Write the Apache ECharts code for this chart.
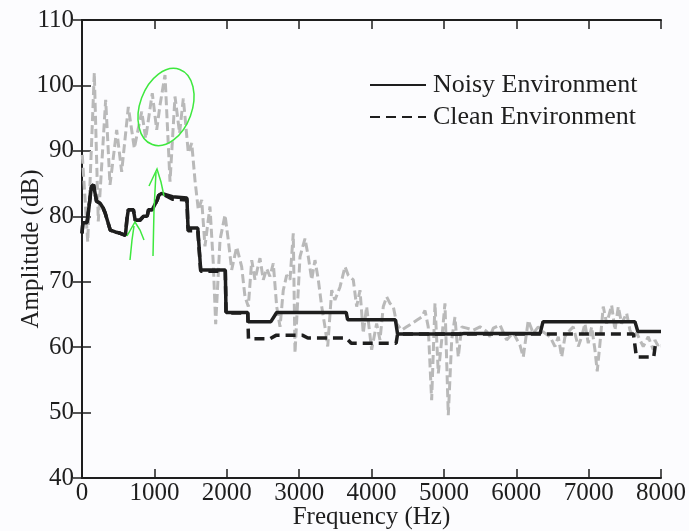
<!DOCTYPE html>
<html>
<head>
<meta charset="utf-8">
<script src="https://cdn.jsdelivr.net/npm/echarts@6/dist/echarts.min.js"></script>
<style>
  html, body { margin: 0; padding: 0; background: #fcfcfe; }
  #main { width: 689px; height: 531px; }
</style>
</head>
<body>
<div id="main"></div>
<script>
// spectrum of the noisy recording (grey dashed trace)
var specFreq = [4, 79, 170, 225, 327, 387, 479, 548, 640, 723, 825, 880, 971, 1032, 1078, 1147, 1216, 1285, 1348, 1400,
    1469, 1516, 1561, 1607, 1654, 1699, 1768, 1814, 1847, 1907, 1976, 2021, 2068, 2137, 2206, 2252, 2298, 2345, 2390, 2459,
    2505, 2552, 2597, 2643, 2690, 2736, 2781, 2828, 2874, 2919, 2943, 3012, 3081, 3127, 3174, 3219, 3265, 3312, 3357, 3395,
    3450, 3495, 3565, 3634, 3679, 3748, 3795, 3841, 3886, 3933, 4002, 4071, 4117, 4163, 4210, 4255, 4301, 4348, 4417, 4486,
    4555, 4624, 4693, 4739, 4784, 4831, 4877, 4923, 4970, 5015, 5061, 5108, 5153, 5199, 5246, 5315, 5406, 5499, 5591, 5637,
    5683, 5775, 5867, 5959, 6051, 6097, 6166, 6235, 6304, 6373, 6466, 6535, 6581, 6628, 6673, 6742, 6788, 6857, 6904, 6949,
    6995, 7042, 7087, 7119, 7157, 7202, 7249, 7318, 7364, 7410, 7456, 7525, 7571, 7617, 7663, 7709, 7755, 7824, 7893, 7916,
    7953, 8000];
var specAmp = [89.4, 76.1, 101.9, 79.2, 97.8, 84.8, 93.2, 86.8, 96.7, 90.4, 96.0, 91.9, 98.8, 93.2, 97.0, 101.6, 85.3, 98.3, 92.7, 98.0,
    89.7, 91.2, 85.5, 81.0, 82.5, 75.4, 81.5, 72.8, 63.5, 76.4, 80.2, 76.4, 71.8, 75.3, 72.3, 67.7, 66.2, 73.3, 70.3, 73.6,
    70.3, 72.0, 70.8, 72.8, 66.2, 63.1, 68.7, 71.0, 70.3, 77.4, 59.1, 73.8, 76.6, 73.8, 70.3, 73.3, 70.3, 66.2, 63.1, 60.1,
    68.7, 67.2, 69.2, 72.3, 71.0, 70.3, 66.2, 68.7, 62.1, 66.2, 59.6, 63.6, 61.1, 66.2, 67.7, 66.7, 66.2, 63.6, 62.6, 63.1,
    63.6, 64.1, 64.6, 65.6, 63.1, 51.9, 66.7, 56.0, 61.1, 66.7, 49.6, 61.1, 64.6, 58.5, 63.1, 62.9, 62.6, 63.1, 62.4, 61.6,
    62.9, 63.4, 61.1, 62.2, 60.3, 58.5, 64.1, 62.1, 63.1, 62.3, 61.6, 60.1, 61.6, 58.5, 61.6, 62.6, 63.1, 60.1, 61.6, 63.6,
    60.6, 63.1, 59.6, 56.3, 60.6, 66.2, 63.6, 66.4, 62.6, 66.2, 63.6, 65.2, 62.6, 61.6, 62.2, 61.1, 60.1, 61.6, 59.6, 61.1,
    60.3, 60.5];

// band levels, noisy environment (solid)
var noisyFreq = [0, 10, 12, 70, 130, 160, 200, 250, 290, 320, 390, 460, 530, 600, 620, 640, 710, 735, 800, 850,
    900, 920, 970, 1040, 1060, 1100, 1250, 1450, 1465, 1600, 1640, 1980, 1990, 2290, 2295, 2610, 2690, 3650, 3670, 4330,
    4360, 5240, 5280, 6330, 6370, 7640, 7680, 8000];
var noisyAmp = [77.4, 77.4, 79, 79, 84.5, 84.8, 82.3, 82, 81.3, 80.5, 77.9, 77.6, 77.4, 77.1, 79.5, 81, 81, 79.4, 79.4, 80,
    80, 81, 81, 82.5, 83.2, 83.5, 83, 82.8, 78.2, 78.2, 71.8, 71.8, 65.3, 65.3, 63.9, 63.9, 65.3, 65.3, 64.2, 64.2,
    62, 62, 62.1, 62.1, 63.9, 63.9, 62.4, 62.4];

// band levels, clean environment (dashed)
var cleanFreq = [0, 10, 12, 70, 130, 160, 200, 250, 290, 320, 390, 460, 530, 600, 620, 640, 710, 735, 800, 850,
    900, 920, 970, 1040, 1060, 1100, 1250, 1450, 1465, 1600, 1640, 1980, 1990, 2290, 2300, 2600, 2680, 3050, 3120, 3650,
    3720, 4340, 4360, 7620, 7660, 7900, 7920, 8000];
var cleanAmp = [77.4, 77.4, 79, 79, 84.5, 84.8, 82.3, 82, 81.3, 80.5, 77.9, 77.6, 77.4, 77.1, 79.5, 81, 81, 79.4, 79.4, 80,
    80, 81, 81, 82.5, 83.2, 83.5, 82.6, 82.5, 77.8, 77.8, 71.6, 71.6, 65.2, 65.2, 61.3, 61.3, 61.8, 61.8, 61.4, 61.4,
    60.6, 60.6, 62, 62, 58.5, 58.5, 60.2, 60.2];

var seriesNames = ['Noisy Environment', 'Clean Environment'];

function pairs(xs, ys) {
    return xs.map(function (x, i) { return [x, ys[i]]; });
}

var font = '"Liberation Serif", "Times New Roman", serif';
var ink = '#1e1e1e';
var green = '#3ee83e';

var myChart = echarts.init(document.getElementById('main'));

var tickStyle = {
    inside: true,
    length: 9,
    lineStyle: { color: ink, width: 1.5 }
};

myChart.setOption({
    backgroundColor: '#fcfcfe',
    animation: false,
    grid: { left: 82, right: 28, top: 20, bottom: 53, outerBoundsMode: 'none', containLabel: false },
    legend: {
        orient: 'vertical',
        left: 364,
        top: 67,
        itemWidth: 56,
        itemHeight: 14,
        itemGap: 6,
        data: seriesNames,
        itemStyle: { opacity: 0 },
        textStyle: { fontFamily: font, fontSize: 26, color: ink, padding: [0, 0, 0, 2] }
    },
    xAxis: [{
        type: 'value',
        min: 0, max: 8000, interval: 1000,
        name: 'Frequency (Hz)',
        nameLocation: 'middle',
        nameGap: 27,
        nameMoveOverlap: false,
        nameTextStyle: { fontFamily: font, fontSize: 25, color: ink },
        axisLine: { lineStyle: { color: ink, width: 2 } },
        axisTick: tickStyle,
        axisLabel: { fontFamily: font, fontSize: 25, color: ink, margin: 3, formatter: function (v) { return String(v); } },
        splitLine: { show: false }
    }, {
        type: 'value',
        position: 'top',
        min: 0, max: 8000, interval: 1000,
        axisLine: { lineStyle: { color: ink, width: 2 } },
        axisTick: tickStyle,
        axisLabel: { show: false },
        splitLine: { show: false }
    }],
    yAxis: [{
        type: 'value',
        min: 40, max: 110, interval: 10,
        name: 'Amplitude (dB)',
        nameLocation: 'middle',
        nameGap: 38,
        nameMoveOverlap: false,
        nameTextStyle: { fontFamily: font, fontSize: 25, color: ink },
        axisLine: { lineStyle: { color: ink, width: 2 } },
        axisTick: tickStyle,
        axisLabel: { fontFamily: font, fontSize: 25, color: ink, margin: 8 },
        splitLine: { show: false }
    }, {
        type: 'value',
        position: 'right',
        min: 40, max: 110, interval: 10,
        axisLine: { lineStyle: { color: ink, width: 2 } },
        axisTick: tickStyle,
        axisLabel: { show: false },
        splitLine: { show: false }
    }],
    series: [{
        name: 'spectrum',
        type: 'line',
        data: pairs(specFreq, specAmp),
        symbol: 'none',
        z: 1,
        lineStyle: { color: '#b9b9b9', width: 3, type: [9, 4] }
    }, {
        name: seriesNames[1],
        type: 'line',
        data: pairs(cleanFreq, cleanAmp),
        symbol: 'none',
        z: 2,
        itemStyle: { color: ink },
        lineStyle: { color: ink, width: 3.5, type: [10, 6] }
    }, {
        name: seriesNames[0],
        type: 'line',
        data: pairs(noisyFreq, noisyAmp),
        symbol: 'none',
        z: 3,
        itemStyle: { color: ink },
        lineStyle: { color: ink, width: 3.5 }
    }],
    // hand-drawn green markings on the original figure
    graphic: [{
        type: 'ellipse',
        x: 166, y: 107,
        rotation: -0.35,
        shape: { cx: 0, cy: 0, rx: 26, ry: 40 },
        style: { fill: 'none', stroke: green, lineWidth: 1.5 },
        z: 10
    }, {
        type: 'polyline',
        shape: { points: [[130, 260], [132, 240], [134, 226]] },
        style: { fill: 'none', stroke: green, lineWidth: 1.5 },
        z: 10
    }, {
        type: 'polyline',
        shape: { points: [[127, 236], [135, 222], [140, 230], [144, 240]] },
        style: { fill: 'none', stroke: green, lineWidth: 1.5 },
        z: 10
    }, {
        type: 'polyline',
        shape: { points: [[153, 256], [154, 210], [156, 172]] },
        style: { fill: 'none', stroke: green, lineWidth: 1.5 },
        z: 10
    }, {
        type: 'polyline',
        shape: { points: [[149, 186], [157, 169], [161, 182], [164, 196]] },
        style: { fill: 'none', stroke: green, lineWidth: 1.5 },
        z: 10
    }]
});
</script>
</body>
</html>
